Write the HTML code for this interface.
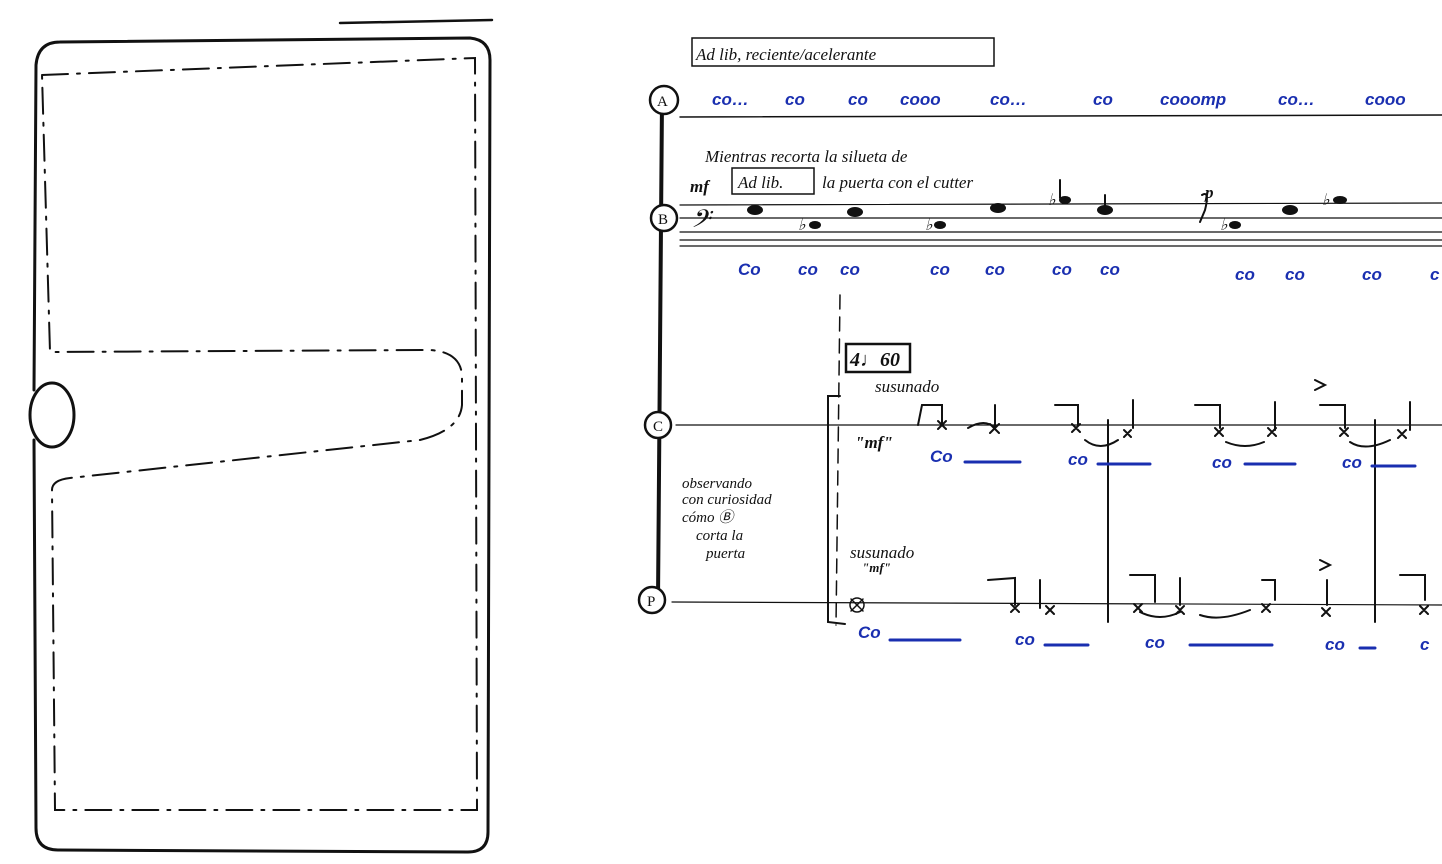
<!DOCTYPE html>
<html><head><meta charset="utf-8"><style>
html,body{margin:0;padding:0;background:#fff;}
svg{display:block}
.h{font-family:"Liberation Serif",serif;font-style:italic;fill:#111}
.b{font-family:"Liberation Sans",sans-serif;font-weight:bold;font-style:italic;fill:#1a2fb0}
</style></head><body>
<svg width="1442" height="864" viewBox="0 0 1442 864" xmlns="http://www.w3.org/2000/svg">
<g fill="none" stroke="#111" stroke-linecap="round">
<line x1="340" y1="23" x2="492" y2="20" stroke-width="2.5"/>
<path d="M60 42 L470 38 Q490 40 490 60 L488 832 Q488 852 468 852 L58 850 Q36 850 36 828 L34 440 M34 390 L36 65 Q38 42 60 42" stroke-width="3"/>
<ellipse cx="52" cy="415" rx="22" ry="32" stroke-width="3"/>
<g stroke-width="2" stroke-dasharray="26,9,3,9">
<path d="M42 75 L475 58 L477 810 L55 810 L52 490 Q52 480 70 478 L420 440 Q460 430 462 405 L462 375 Q460 352 430 350 L50 352 L42 75"/>
</g>
<rect x="692" y="38" width="302" height="28" stroke-width="1.5"/>
<line x1="662" y1="100" x2="658" y2="600" stroke-width="4"/>
<line x1="680" y1="117" x2="1442" y2="115" stroke-width="1.5"/>
<g stroke-width="1.2"><line x1="680" y1="205" x2="1442" y2="203"/><line x1="680" y1="218" x2="1442" y2="218"/><line x1="680" y1="232" x2="1442" y2="232"/><line x1="680" y1="240" x2="1442" y2="240"/><line x1="680" y1="246" x2="1442" y2="246"/></g>
<line x1="676" y1="425" x2="1442" y2="425" stroke-width="1.2"/>
<line x1="672" y1="602" x2="1442" y2="605" stroke-width="1.2"/>
<line x1="840" y1="295" x2="836" y2="625" stroke-width="1.5" stroke-dasharray="14,8"/>
<path d="M840 396 L828 396 L828 622 L845 624" stroke-width="2"/>
<rect x="846" y="344" width="64" height="28" stroke-width="2.5"/>
<line x1="1108" y1="420" x2="1108" y2="622" stroke-width="2"/>
<line x1="1375" y1="420" x2="1375" y2="622" stroke-width="2"/>
<circle cx="664" cy="100" r="14" stroke-width="2.5" fill="#fff"/>
<circle cx="664" cy="218" r="13" stroke-width="2.5" fill="#fff"/>
<circle cx="658" cy="425" r="13" stroke-width="2.5" fill="#fff"/>
<circle cx="652" cy="600" r="13" stroke-width="2.5" fill="#fff"/>
<rect x="732" y="168" width="82" height="26" stroke-width="1.5"/>
<circle cx="857" cy="605" r="7" stroke-width="1.5"/>
<path d="M851 599 L863 611 M863 599 L851 611" stroke-width="1.5"/>
<g stroke="#1a2fb0" stroke-width="3">
<line x1="965" y1="462" x2="1020" y2="462"/><line x1="1098" y1="464" x2="1150" y2="464"/><line x1="1245" y1="464" x2="1295" y2="464"/><line x1="1372" y1="466" x2="1415" y2="466"/>
<line x1="890" y1="640" x2="960" y2="640"/><line x1="1045" y1="645" x2="1088" y2="645"/><line x1="1190" y1="645" x2="1272" y2="645"/><line x1="1360" y1="648" x2="1375" y2="648"/>
</g>
<g stroke-width="2">
<path d="M918 425 L922 405 L942 405 L942 425 M1055 405 L1078 405 L1078 425 M1195 405 L1220 405 L1220 428 M1320 405 L1345 405 L1345 428 M988 580 L1015 578 L1015 605 M1130 575 L1155 575 L1155 602 M1262 580 L1275 580 L1275 600 M1400 575 L1425 575 L1425 600"/>
<path d="M968 428 Q985 418 995 428 M1085 440 Q1100 452 1118 440 M1226 442 Q1245 450 1264 442 M1350 442 Q1365 452 1390 440 M1140 612 Q1160 622 1180 612 M1200 615 Q1220 622 1250 610"/>
<line x1="995" y1="405" x2="995" y2="428"/><line x1="1133" y1="400" x2="1133" y2="428"/><line x1="1275" y1="402" x2="1275" y2="430"/><line x1="1410" y1="402" x2="1410" y2="430"/>
<line x1="1040" y1="580" x2="1040" y2="608"/><line x1="1180" y1="578" x2="1180" y2="605"/><line x1="1327" y1="580" x2="1327" y2="605"/>
<path d="M938 421 l8 8 m0 -8 l-8 8 M990 424 l9 9 m0 -9 l-9 9 M1072 424 l8 8 m0 -8 l-8 8 M1124 430 l7 7 m0 -7 l-7 7 M1215 428 l8 8 m0 -8 l-8 8 M1268 428 l8 8 m0 -8 l-8 8 M1340 428 l8 8 m0 -8 l-8 8 M1398 430 l8 8 m0 -8 l-8 8"/>
<path d="M1011 604 l8 8 m0 -8 l-8 8 M1046 606 l8 8 m0 -8 l-8 8 M1134 604 l8 8 m0 -8 l-8 8 M1176 606 l8 8 m0 -8 l-8 8 M1262 604 l8 8 m0 -8 l-8 8 M1322 608 l8 8 m0 -8 l-8 8 M1420 606 l8 8 m0 -8 l-8 8"/>
<path d="M1320 560 l10 5 l-10 5 M1315 380 l10 5 l-10 5"/>
<path d="M1060 198 L1060 180 M1105 210 L1105 195 M1202 195 Q1210 190 1205 210 L1200 222"/>
</g>
</g>
<g fill="#111">
<ellipse cx="755" cy="210" rx="8" ry="5"/><ellipse cx="815" cy="225" rx="6" ry="4"/><ellipse cx="855" cy="212" rx="8" ry="5"/><ellipse cx="940" cy="225" rx="6" ry="4"/><ellipse cx="998" cy="208" rx="8" ry="5"/><ellipse cx="1065" cy="200" rx="6" ry="4"/><ellipse cx="1105" cy="210" rx="8" ry="5"/><ellipse cx="1235" cy="225" rx="6" ry="4"/><ellipse cx="1290" cy="210" rx="8" ry="5"/><ellipse cx="1340" cy="200" rx="7" ry="4"/>
</g>
<g class="h" font-size="16" font-style="normal"><text x="798" y="230">♭</text><text x="925" y="230">♭</text><text x="1048" y="205">♭</text><text x="1220" y="230">♭</text><text x="1322" y="205">♭</text></g>
<g class="h" font-size="30"><text x="690" y="232">𝄢</text></g>
<g class="h" font-size="17">
<text x="696" y="60">Ad lib, reciente/acelerante</text>
<text x="705" y="162">Mientras recorta la silueta de</text>
<text x="690" y="192" font-weight="bold">mf</text>
<text x="738" y="188">Ad lib.</text>
<text x="822" y="188">la puerta con el cutter</text>
<text x="1205" y="198" font-weight="bold">p</text>
<text x="850" y="366" font-weight="bold" font-size="20">4♩60</text>
<text x="875" y="392">susunado</text>
<text x="855" y="448" font-weight="bold">"mf"</text>
<text x="682" y="488" font-size="15">observando</text>
<text x="682" y="504" font-size="15">con curiosidad</text>
<text x="682" y="522" font-size="15">cómo Ⓑ</text>
<text x="696" y="540" font-size="15">corta la</text>
<text x="706" y="558" font-size="15">puerta</text>
<text x="850" y="558">susunado</text>
<text x="862" y="572" font-size="13" font-weight="bold">"mf"</text>
<text x="657" y="106" font-size="15" font-style="normal">A</text>
<text x="658" y="224" font-size="15" font-style="normal">B</text>
<text x="653" y="431" font-size="15" font-style="normal">C</text>
<text x="647" y="606" font-size="15" font-style="normal">P</text>
</g>
<g class="b" font-size="17">
<text x="712" y="105">co…</text><text x="785" y="105">co</text><text x="848" y="105">co</text><text x="900" y="105">cooo</text><text x="990" y="105">co…</text><text x="1093" y="105">co</text><text x="1160" y="105">cooomp</text><text x="1278" y="105">co…</text><text x="1365" y="105">cooo</text>
<text x="738" y="275">Co</text><text x="798" y="275">co</text><text x="840" y="275">co</text><text x="930" y="275">co</text><text x="985" y="275">co</text><text x="1052" y="275">co</text><text x="1100" y="275">co</text><text x="1235" y="280">co</text><text x="1285" y="280">co</text><text x="1362" y="280">co</text><text x="1430" y="280">c</text>
<text x="930" y="462">Co</text><text x="1068" y="465">co</text><text x="1212" y="468">co</text><text x="1342" y="468">co</text>
<text x="858" y="638">Co</text><text x="1015" y="645">co</text><text x="1145" y="648">co</text><text x="1325" y="650">co</text><text x="1420" y="650">c</text>
</g>
</svg>
</body></html>
